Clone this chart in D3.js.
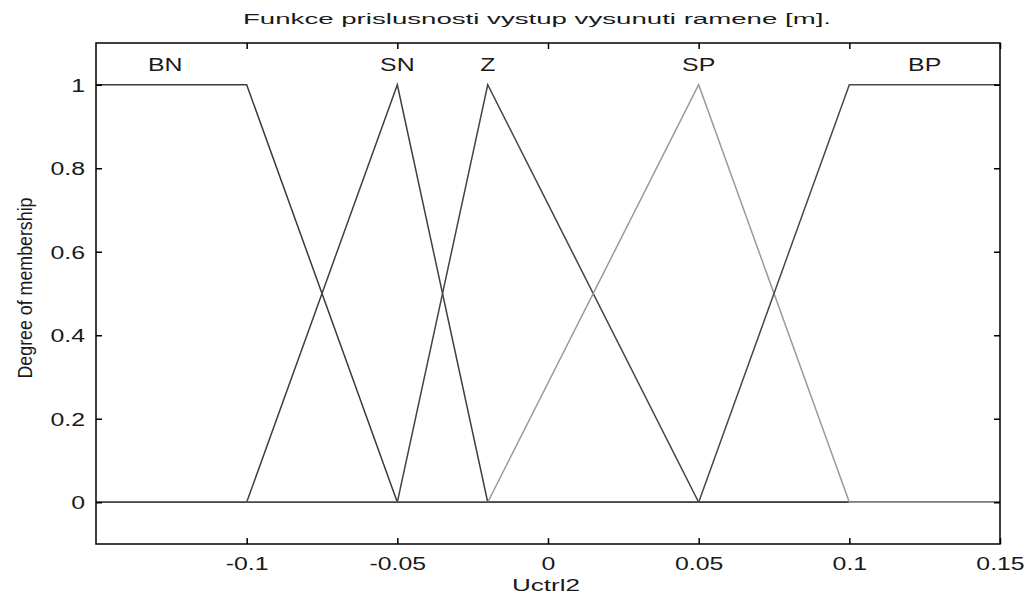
<!DOCTYPE html>
<html>
<head>
<meta charset="utf-8">
<script src="https://cdn.jsdelivr.net/npm/d3@7"></script>
<style>
  html, body { margin: 0; padding: 0; background: #fff; }
  svg { display: block; }
</style>
</head>
<body>
<div id="chart"></div>
<script>
// Membership functions of output "Uctrl2" (breakpoints [x, degree])
const mfNames = ['BN', 'SN', 'Z', 'SP', 'BP'];
const mfBN = [[-0.15, 1], [-0.1, 1], [-0.05, 0], [0.15, 0]];
const mfSN = [[-0.15, 0], [-0.1, 0], [-0.05, 1], [-0.02, 0], [0.15, 0]];
const mfZ = [[-0.15, 0], [-0.05, 0], [-0.02, 1], [0.05, 0], [0.15, 0]];
const mfSP = [[-0.15, 0], [-0.02, 0], [0.05, 1], [0.1, 0], [0.15, 0]];
const mfBP = [[-0.15, 0], [0.05, 0], [0.1, 1], [0.15, 1]];
const mfLabelX = [-0.127, -0.05, -0.02, 0.05, 0.125];
const xTicks = [-0.1, -0.05, 0, 0.05, 0.1, 0.15];
const xTickLabels = ['-0.1', '-0.05', '0', '0.05', '0.1', '0.15'];
const yTicks = [0, 0.2, 0.4, 0.6, 0.8, 1];
const yTickLabels = ['0', '0.2', '0.4', '0.6', '0.8', '1'];

const width = 1026;
const height = 593;
const margin = { top: 43, right: 26, bottom: 49, left: 96 };
const plotW = width - margin.left - margin.right;
const plotH = height - margin.top - margin.bottom;
const lineColors = ['#3a3a3a', '#3f3f3f', '#444444', '#9a9a9a', '#484848'];
const font = '"Liberation Sans", Arial, sans-serif';
const stretch = 1.38; // the figure's text is widened horizontally
const textColor = '#1a1a1a';

const svg = d3.select('#chart')
  .append('svg')
  .attr('width', width)
  .attr('height', height)
  .attr('viewBox', [0, 0, width, height]);

const g = svg.append('g')
  .attr('transform', `translate(${margin.left},${margin.top})`);

const x = d3.scaleLinear().domain([-0.15, 0.15]).range([0, plotW]);
const y = d3.scaleLinear().domain([-0.1, 1.1]).range([plotH, 0]);

// Membership curves
const line = d3.line().x(d => x(d[0])).y(d => y(d[1]));
[mfBN, mfSN, mfZ, mfSP, mfBP].forEach((mf, i) => {
  g.append('path')
    .datum(mf)
    .attr('fill', 'none')
    .attr('stroke', lineColors[i])
    .attr('stroke-width', 1.5)
    .attr('d', line);
});

// MF names
g.selectAll('.mf-label')
  .data(mfNames)
  .join('text')
  .attr('class', 'mf-label')
  .attr('transform', (d, i) => `translate(${x(mfLabelX[i])},${y(1.034)}) scale(${stretch},1)`)
  .attr('text-anchor', 'middle')
  .style('font-family', font)
  .style('font-size', '18px')
  .style('fill', textColor)
  .text(d => d);

// Axes with inward ticks, MATLAB style
const tickLen = 6;
const xAxisBottom = g.append('g')
  .attr('transform', `translate(0,${plotH})`)
  .call(d3.axisBottom(x).tickValues(xTicks).tickSize(-tickLen).tickSizeOuter(0)
    .tickFormat((d, i) => xTickLabels[i]).tickPadding(tickLen + 7));
const xAxisTop = g.append('g')
  .call(d3.axisTop(x).tickValues(xTicks).tickSize(-tickLen).tickSizeOuter(0).tickFormat(''));
const yAxisLeft = g.append('g')
  .call(d3.axisLeft(y).tickValues(yTicks).tickSize(-tickLen).tickSizeOuter(0)
    .tickFormat((d, i) => yTickLabels[i]));
const yAxisRight = g.append('g')
  .attr('transform', `translate(${plotW},0)`)
  .call(d3.axisRight(y).tickValues(yTicks).tickSize(-tickLen).tickSizeOuter(0).tickFormat(''));

[xAxisBottom, xAxisTop, yAxisLeft, yAxisRight].forEach(ax => {
  ax.select('.domain').remove();
  ax.selectAll('line').attr('stroke', '#000').attr('stroke-width', 1.5);
  ax.selectAll('text')
    .style('font-family', font)
    .style('font-size', '18px')
    .attr('fill', textColor)
    .attr('transform', `scale(${stretch},1)`);
});
yAxisLeft.selectAll('text')
  .attr('x', -11 / stretch)
  .attr('dy', '0.36em');

// Plot frame
g.append('rect')
  .attr('x', 0)
  .attr('y', 0)
  .attr('width', plotW)
  .attr('height', plotH)
  .attr('fill', 'none')
  .attr('stroke', '#000')
  .attr('stroke-width', 1.5);

// Title
svg.append('text')
  .attr('x', 537)
  .attr('y', 24)
  .attr('text-anchor', 'middle')
  .attr('textLength', 588)
  .attr('lengthAdjust', 'spacingAndGlyphs')
  .style('font-family', font)
  .style('font-size', '15.5px')
  .style('fill', textColor)
  .text('Funkce prislusnosti vystup vysunuti ramene [m].');

// X axis label
svg.append('text')
  .attr('x', 546)
  .attr('y', 591)
  .attr('text-anchor', 'middle')
  .attr('textLength', 68)
  .attr('lengthAdjust', 'spacingAndGlyphs')
  .style('font-family', font)
  .style('font-size', '16px')
  .style('fill', textColor)
  .text('Uctrl2');

// Y axis label (condensed, rotated)
svg.append('text')
  .attr('transform', 'translate(32,288) rotate(-90)')
  .attr('text-anchor', 'middle')
  .attr('textLength', 181)
  .attr('lengthAdjust', 'spacingAndGlyphs')
  .style('font-family', font)
  .style('font-size', '21px')
  .style('fill', textColor)
  .text('Degree of membership');
</script>
</body>
</html>
